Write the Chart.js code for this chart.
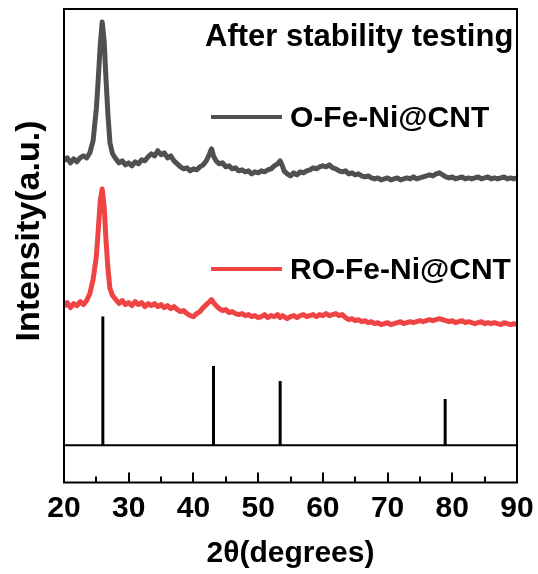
<!DOCTYPE html>
<html>
<head>
<meta charset="utf-8">
<script src="https://cdn.jsdelivr.net/npm/chart.js@4/dist/chart.umd.min.js"></script>
<style>
  html, body { margin: 0; padding: 0; background: #fff; }
  #wrap { width: 538px; height: 574px; }
</style>
</head>
<body>
<div id="wrap"><canvas id="xrd" width="538" height="574"></canvas></div>
<script>
// 2θ sampling positions shared by both patterns (denser around the peaks)
const angles = [
  20, 20.5, 21, 21.5, 22, 22.5, 23, 23.5, 24, 24.5, 25, 25.3, 25.6, 25.9, 26.2, 26.5, 26.8, 27.1, 27.5,
  28, 28.5, 29, 29.5, 30, 30.5, 31, 31.5, 32, 32.5, 33, 33.5, 34, 34.5, 35, 35.5, 36, 36.5, 37, 37.5,
  38, 38.5, 39, 39.5, 40, 40.5, 41, 41.5, 42, 42.5, 42.8, 43.1, 43.5, 44, 44.5, 45, 45.5, 46, 46.5,
  47, 47.5, 48, 48.5, 49, 49.5, 50, 50.5, 51, 51.5, 52, 52.5, 53, 53.4, 53.8, 54, 54.5, 55, 55.5,
  56, 56.5, 57, 57.5, 58, 58.5, 59, 59.5, 60, 60.5, 61, 61.5, 62, 62.5, 63, 63.5, 64, 64.5, 65,
  65.5, 66, 66.5, 67, 67.5, 68, 68.5, 69, 69.5, 70, 70.5, 71, 71.5, 72, 72.5, 73, 73.5, 74, 74.5,
  75, 75.5, 76, 76.5, 77, 77.5, 78, 78.5, 79, 79.5, 80, 80.5, 81, 81.5, 82, 82.5, 83, 83.5, 84,
  84.5, 85, 85.5, 86, 86.5, 87, 87.5, 88, 88.5, 89, 89.5, 90
];

// O-Fe-Ni@CNT intensity (a.u., vertically offset)
const oFeNi = [
  283, 286, 281, 285, 282, 286, 288, 286, 291, 303, 335, 365, 398, 421, 403, 363, 328, 301, 290,
  285, 281, 283, 279, 281, 278, 282, 280, 284, 283, 287, 290, 288, 293, 289, 291, 286, 288, 283, 280,
  277, 275, 276, 273, 275, 274, 277, 279, 283, 290, 295, 288, 283, 280, 281, 277, 278, 275, 276,
  273, 274, 272, 273, 270, 272, 271, 273, 272, 274, 275, 278, 280, 283, 277, 273, 270, 268, 271,
  269, 272, 271, 273, 274, 276, 275, 277, 278, 277, 279, 276, 275, 273, 272, 273, 270, 271, 269,
  270, 268, 267, 268, 266, 265, 266, 264, 265, 266, 264, 265, 266, 264, 265, 266, 265, 267, 265,
  266, 267, 268, 269, 268, 270, 271, 269, 267, 266, 267, 265, 266, 267, 265, 266, 265, 266, 267,
  265, 266, 267, 265, 266, 265, 266, 267, 265, 266, 265, 266
];

// RO-Fe-Ni@CNT intensity (a.u., vertically offset)
const roFeNi = [
  138, 142, 137, 141, 139, 143, 140, 144, 151, 165, 188, 215, 243, 255, 238, 203, 175, 156, 149,
  145, 141, 144, 140, 142, 139, 143, 140, 142, 138, 141, 139, 141, 138, 140, 137, 139, 136, 138, 135,
  133, 134, 131, 129, 128, 131, 133, 137, 140, 143, 145, 142, 139, 136, 134, 135, 132, 133, 131,
  130, 131, 129, 130, 128, 129, 127, 128, 130, 127, 129, 128, 130, 127, 129, 128, 126, 128, 129,
  127, 129, 130, 128, 129, 130, 128, 130, 129, 131, 129, 130, 131, 129, 130, 127, 125, 126, 124,
  125, 123, 124, 122, 123, 121, 122, 120, 121, 122, 120, 121, 122, 123, 121, 122, 123, 122, 123,
  124, 123, 124, 125, 124, 125, 126, 125, 124, 123, 124, 122, 123, 124, 122, 123, 122, 121, 122,
  123, 121, 122, 121, 122, 121, 120, 122, 121, 120, 121, 120
];

// Reference diffraction lines: positions (2θ) and relative heights
const refAngles = [26.0, 43.1, 53.4, 78.9];
const refHeights = [128, 79, 64, 46];

const axisTicks = [20, 30, 40, 50, 60, 70, 80, 90];
const seriesNames = ['O-Fe-Ni@CNT', 'RO-Fe-Ni@CNT'];
const panelTitle = 'After stability testing';
const xTitle = '2θ(degrees)';
const yTitle = 'Intensity(a.u.)';

const FONT = "'Liberation Sans', Arial, sans-serif";
const GREY = '#505050';
const RED = '#f04444';

const toPoints = (xs, ys) => xs.map((x, i) => ({ x, y: ys[i] }));

const datasets = [
  { label: seriesNames[0], data: toPoints(angles, oFeNi), borderColor: GREY, borderWidth: 5 },
  { label: seriesNames[1], data: toPoints(angles, roFeNi), borderColor: RED, borderWidth: 5 },
  // baseline of the reference-line panel
  { label: 'base', data: [{ x: 20, y: 0 }, { x: 90, y: 0 }], borderColor: '#000', borderWidth: 2 }
];
refAngles.forEach((a, i) => {
  datasets.push({
    label: 'ref' + i,
    data: [{ x: a, y: 0 }, { x: a, y: refHeights[i] }],
    borderColor: '#000',
    borderWidth: 3,
    borderCapStyle: 'butt'
  });
});
datasets.forEach(d => { d.pointRadius = 0; d.tension = 0; d.fill = false; d.borderJoinStyle = 'round'; });

// Frame, inward ticks and annotation text
const decorations = {
  id: 'decorations',
  afterDraw(chart) {
    const { ctx, chartArea: a, scales: { x } } = chart;
    ctx.save();
    ctx.strokeStyle = '#000';
    ctx.lineWidth = 2;
    ctx.strokeRect(a.left, a.top, a.right - a.left, a.bottom - a.top);

    // inward ticks on the bottom axis: majors every 10, minors every 5
    for (let v = 20; v <= 90; v += 5) {
      const px = Math.round(x.getPixelForValue(v));
      const len = axisTicks.includes(v) ? 10 : 6;
      ctx.beginPath();
      ctx.moveTo(px, a.bottom);
      ctx.lineTo(px, a.bottom - len);
      ctx.stroke();
    }

    ctx.fillStyle = '#000';
    ctx.textBaseline = 'alphabetic';
    ctx.textAlign = 'left';
    ctx.font = 'bold 31px ' + FONT;
    ctx.fillText(panelTitle, 205, 46);

    // legend entries
    ctx.font = 'bold 30px ' + FONT;
    const entries = [
      { y: 117, base: 127, color: GREY, text: seriesNames[0] },
      { y: 269, base: 279, color: RED, text: seriesNames[1] }
    ];
    entries.forEach(e => {
      ctx.strokeStyle = e.color;
      ctx.lineWidth = 4;
      ctx.beginPath();
      ctx.moveTo(211, e.y);
      ctx.lineTo(282, e.y);
      ctx.stroke();
      ctx.fillStyle = '#000';
      ctx.fillText(e.text, 290, e.base);
    });

    // vertical axis title
    ctx.font = 'bold 34px ' + FONT;
    ctx.translate(30, 231);
    ctx.rotate(-Math.PI / 2);
    ctx.textAlign = 'center';
    ctx.textBaseline = 'middle';
    ctx.fillText(yTitle, 0, 0);
    ctx.restore();
  }
};

new Chart(document.getElementById('xrd'), {
  type: 'line',
  data: { datasets },
  options: {
    responsive: false,
    animation: false,
    devicePixelRatio: 1,
    layout: { padding: { left: 64, right: 21, top: 9, bottom: 2.5 } },
    plugins: { legend: { display: false }, tooltip: { enabled: false } },
    scales: {
      x: {
        type: 'linear',
        min: 20,
        max: 90,
        grid: { display: false, drawTicks: false },
        border: { display: false },
        // end labels may overhang the plot; the layout padding already leaves room
        afterFit: scale => { scale.paddingLeft = 0; scale.paddingRight = 0; },
        ticks: {
          stepSize: 10,
          padding: 11,
          color: '#000',
          font: { family: FONT, size: 30, weight: 'bold', lineHeight: 1.0 },
          callback: v => (axisTicks.includes(v) ? String(v) : '')
        },
        title: {
          display: true,
          text: xTitle,
          color: '#000',
          padding: { top: 1, bottom: 0 },
          font: { family: FONT, size: 30, weight: 'bold' }
        }
      },
      y: { display: false, min: -37, max: 434 }
    }
  },
  plugins: [decorations]
});
</script>
</body>
</html>
